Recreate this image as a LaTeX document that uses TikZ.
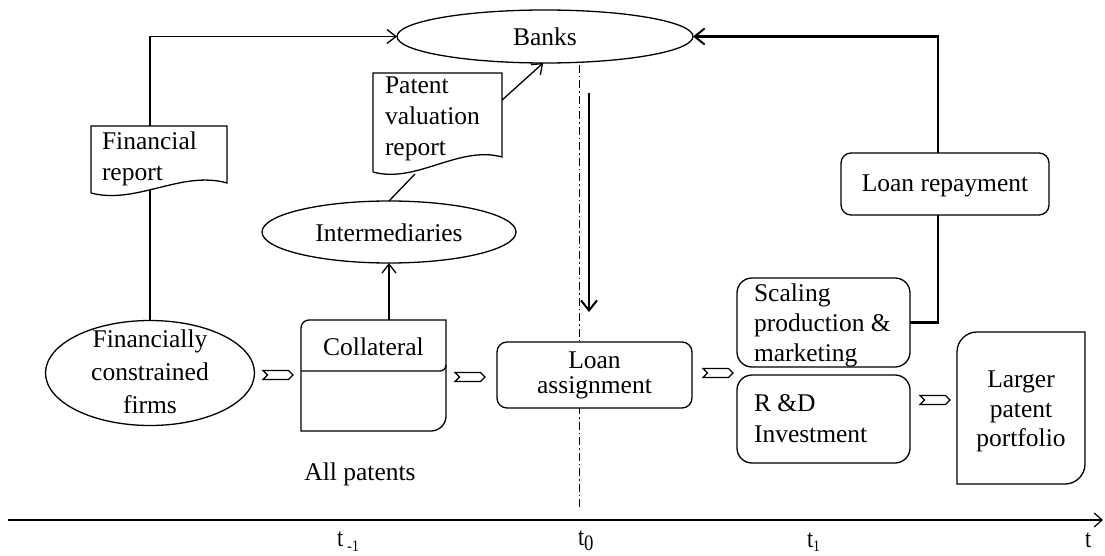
\documentclass[tikz,border=0pt]{standalone}
\usepackage{fontspec}
\setmainfont{Liberation Serif}
\newfontfamily\axisfont[FakeStretch=0.85]{Liberation Serif}
\usetikzlibrary{arrows.meta,shapes.geometric,shapes.symbols}
\begin{document}
\begin{tikzpicture}[x=1pt,y=1pt,
  every node/.style={font=\fontsize{25.5}{31}\selectfont, inner sep=0pt, outer sep=0pt},
  ln/.style={line width=1.3pt},
  barbed/.style={-{Straight Barb[length=9pt,width=14pt,line width=1.3pt]}},
  oval/.style={ellipse, draw, line width=1.3pt, fill=white},
  roundbox/.style={rectangle, draw, line width=1.3pt, fill=white, rounded corners=#1},
  roundbox/.default=12pt,
  chev/.style={signal, signal from=west, signal to=east, draw, fill=white,
    line width=1.1pt, minimum width=30pt, minimum height=9pt},
  stamp/.style={font=\axisfont\fontsize{26}{28}\selectfont}
]
\useasboundingbox (0,0) rectangle (1105,-556);

% time line t0 (dash-dot), behind the boxes
\coordinate (tz1) at (579,-65);
\coordinate (tz2) at (579,-510);
\draw[line width=1pt, dash pattern=on 8pt off 3pt on 1.5pt off 3pt] (tz1) -- (tz2);

% top: banks
\node[oval, minimum width=296pt, minimum height=53pt] (banks) at (545,-36.5) {};
\node (bankstxt) at (545,-37) {Banks};

% financial report (document)
\node[minimum width=136pt, minimum height=57pt] (fr) at (159,-154.5) {};
\draw[ln, fill=white] (91,-193) -- (91,-126) -- (227,-126) -- (227,-183)
  .. controls (182,-170) and (136,-205) .. (91,-193);
\node[anchor=north west, align=left] (frtxt) at (102,-132) {Financial\\report};
\coordinate (frfoot) at (150,-190);

% patent valuation report (document)
\node[minimum width=129pt, minimum height=84pt] (pvr) at (437.5,-115) {};
\draw[ln, fill=white] (373,-172) -- (373,-73) -- (502,-73) -- (502,-157)
  .. controls (459,-145) and (416,-184) .. (373,-172);
\node[anchor=north west, align=left] (pvrtxt) at (385,-77) {Patent\\valuation\\report};
\coordinate (pvrfoot) at (415,-174);

% intermediaries
\node[oval, minimum width=254pt, minimum height=62pt] (inter) at (389,-232) {};
\node (intertxt) at (389,-233) {Intermediaries};

% financially constrained firms
\node[oval, minimum width=209pt, minimum height=105pt] (ff) at (150,-373) {};
\node[anchor=north, align=center, font=\fontsize{25.5}{33}\selectfont] (fftxt) at (150,-330)
  {Financially\\constrained\\firms};

% collateral / all patents
\node[minimum width=145pt, minimum height=111pt] (coll) at (373.5,-375.5) {};
\draw[ln, fill=white] (301,-431) -- (301,-328) arc[start angle=180, end angle=90, radius=8]
  -- (446,-320) -- (446,-416) arc[start angle=0, end angle=-90, radius=15] -- cycle;
\draw[ln] (301,-371) -- (440,-371) arc[start angle=-90, end angle=0, radius=6];
\node (colltxt) at (373.5,-347) {Collateral};
\node (allpat) at (360,-474) {All patents};

% loan assignment
\node[roundbox=10pt, minimum width=195pt, minimum height=66pt] (loan) at (594.5,-375) {};
\node[anchor=north, align=center, font=\fontsize{25.5}{24.5}\selectfont] (loantxt) at (594.5,-352)
  {Loan\\assignment};

% uses of the loan
\node[roundbox=15pt, minimum width=173pt, minimum height=89pt] (scal) at (823.5,-322.5) {};
\node[anchor=north west, align=left, font=\fontsize{25.5}{30}\selectfont] (scaltxt) at (754,-284)
  {Scaling\\production \&\\marketing};
\node[roundbox=15pt, minimum width=173pt, minimum height=88pt] (rnd) at (823.5,-419) {};
\node[anchor=north west, align=left] (rndtxt) at (754,-395) {R \&D\\Investment};

% larger patent portfolio
\node[minimum width=128pt, minimum height=152pt] (lpp) at (1021,-408) {};
\draw[ln, fill=white] (957,-484) -- (957,-352) arc[start angle=180, end angle=90, radius=20]
  -- (1085,-332) -- (1085,-464) arc[start angle=0, end angle=-90, radius=20] -- cycle;
\node[anchor=north, align=center, font=\fontsize{25.5}{29.5}\selectfont] (lpptxt) at (1021,-371)
  {Larger\\patent\\portfolio};

% loan repayment
\node[roundbox=10pt, minimum width=208pt, minimum height=62pt] (repay) at (945,-184) {};
\node (repaytxt) at (945,-186) {Loan repayment};

% chevrons
\node[chev] (c1) at (278,-375) {};
\node[chev] (c2) at (470,-377) {};
\node[chev] (c3) at (718,-373) {};
\node[chev] (c4) at (935,-400) {};

% connectors
\draw[ln] (ff.north) -- (frfoot);
\draw[ln, barbed] (frfoot |- fr.north) |- (banks.west);
\draw[ln] (inter.north) -- (pvrfoot);
\draw[ln, barbed] (pvr.13) -- (banks.266);
\draw[ln, barbed] (inter.south |- coll.north) -- (inter.south);

\coordinate (rx) at (938,0);
\draw[line width=2.6pt] (scal.east) -| (rx |- repay.south);
\draw[line width=2.6pt, -{Straight Barb[length=10pt,width=16pt,line width=2pt]}]
  (rx |- repay.north) |- (banks.east);

% loan flow arrow
\coordinate (da1) at (589,-93);
\coordinate (da2) at (589,-312);
\draw[line width=2pt, -{Straight Barb[length=10pt,width=16pt,line width=2pt]}] (da1) -- (da2);

% time axis
\coordinate (ax1) at (8,-520);
\coordinate (ax2) at (1103,-520);
\draw[line width=1.6pt, -{Straight Barb[length=8pt,width=14pt,line width=1.2pt]}] (ax1) -- (ax2);
\node[stamp, anchor=base west] (tm1) at (337,-546) {t\,\raisebox{-5pt}{\fontsize{16}{16}\selectfont -1}};
\node[stamp, anchor=base west] (t0) at (578,-545) {t\raisebox{-5pt}{\fontsize{22}{22}\selectfont 0}};
\node[stamp, anchor=base west] (t1) at (807,-547) {t\raisebox{-4pt}{\fontsize{16}{16}\selectfont 1}};
\node[stamp, anchor=base west] (tt) at (1085,-547) {t};
\end{tikzpicture}
\end{document}
